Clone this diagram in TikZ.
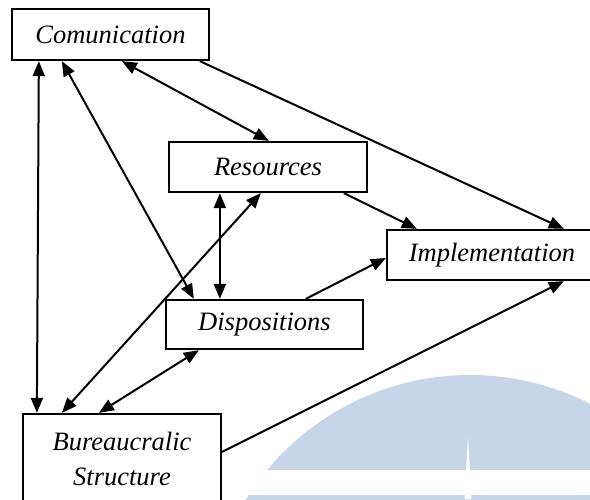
\documentclass[tikz,border=0pt]{standalone}
\usepackage{fontspec}
\setmainfont{Liberation Serif}
\usetikzlibrary{arrows.meta}
\definecolor{markblue}{RGB}{199,213,232}
\begin{document}
\begin{tikzpicture}[x=1pt,y=-1pt,
  box/.style={draw=black, line width=2.3pt, fill=white, inner sep=0pt,
    font=\fontsize{26.5}{35}\selectfont\itshape, align=center},
  link/.style={line width=2pt, black},
  one/.style={link, -{Triangle[length=15pt,width=12pt]}},
  both/.style={link, {Triangle[length=15pt,width=12pt]}-{Triangle[length=15pt,width=12pt]}}]
\useasboundingbox (0,0) rectangle (590,499);
\clip (0,0) rectangle (590,499);

% faint emblem in the lower right
\fill[markblue] (470,639) circle[radius=264];
\fill[white] (0,470) rectangle (590,495);
\fill[white] (468,436) -- (471.5,499) -- (464.5,499) -- cycle;

% boxes
\node[box, minimum width=197pt, minimum height=51pt] (comm) at (110.5,34.5) {Comunication};
\node[box, minimum width=198pt, minimum height=50pt] (res) at (268,167) {Resources};
\node[box, minimum width=210pt, minimum height=50pt] (impl) at (492,255) {Implementation};
\node[box, minimum width=197pt, minimum height=49pt] (disp) at (264.5,324.5) {Dispositions};
\node[box, minimum width=198pt, minimum height=89pt] (bur) at (122,458.5) {Bureaucralic\\Structure};

% connectors
\draw[both] ([xshift=28pt]comm.south west) -- ([xshift=15pt]bur.north west);
\draw[both] ([xshift=51pt]comm.south west) -- ([xshift=29pt]disp.north west);
\draw[both] ([xshift=111pt]comm.south west) -- ([xshift=101pt]res.north west);
\draw[one] ([xshift=189pt]comm.south west) -- ([xshift=178pt]impl.north west);
\draw[one] ([xshift=176pt]res.south west) -- ([xshift=31pt]impl.north west);
\draw[both] ([xshift=52pt]res.south west) -- ([xshift=55pt]disp.north west);
\draw[both] ([xshift=40pt]bur.north west) -- ([xshift=93pt]res.south west);
\draw[both] ([xshift=77pt]bur.north west) -- ([xshift=34pt]disp.south west);
\draw[one] ([xshift=141pt]disp.north west) -- ([yshift=-3pt]impl.west);
\draw[one] ([yshift=-39pt]bur.north east) -- ([xshift=178pt]impl.south west);
\end{tikzpicture}
\end{document}
